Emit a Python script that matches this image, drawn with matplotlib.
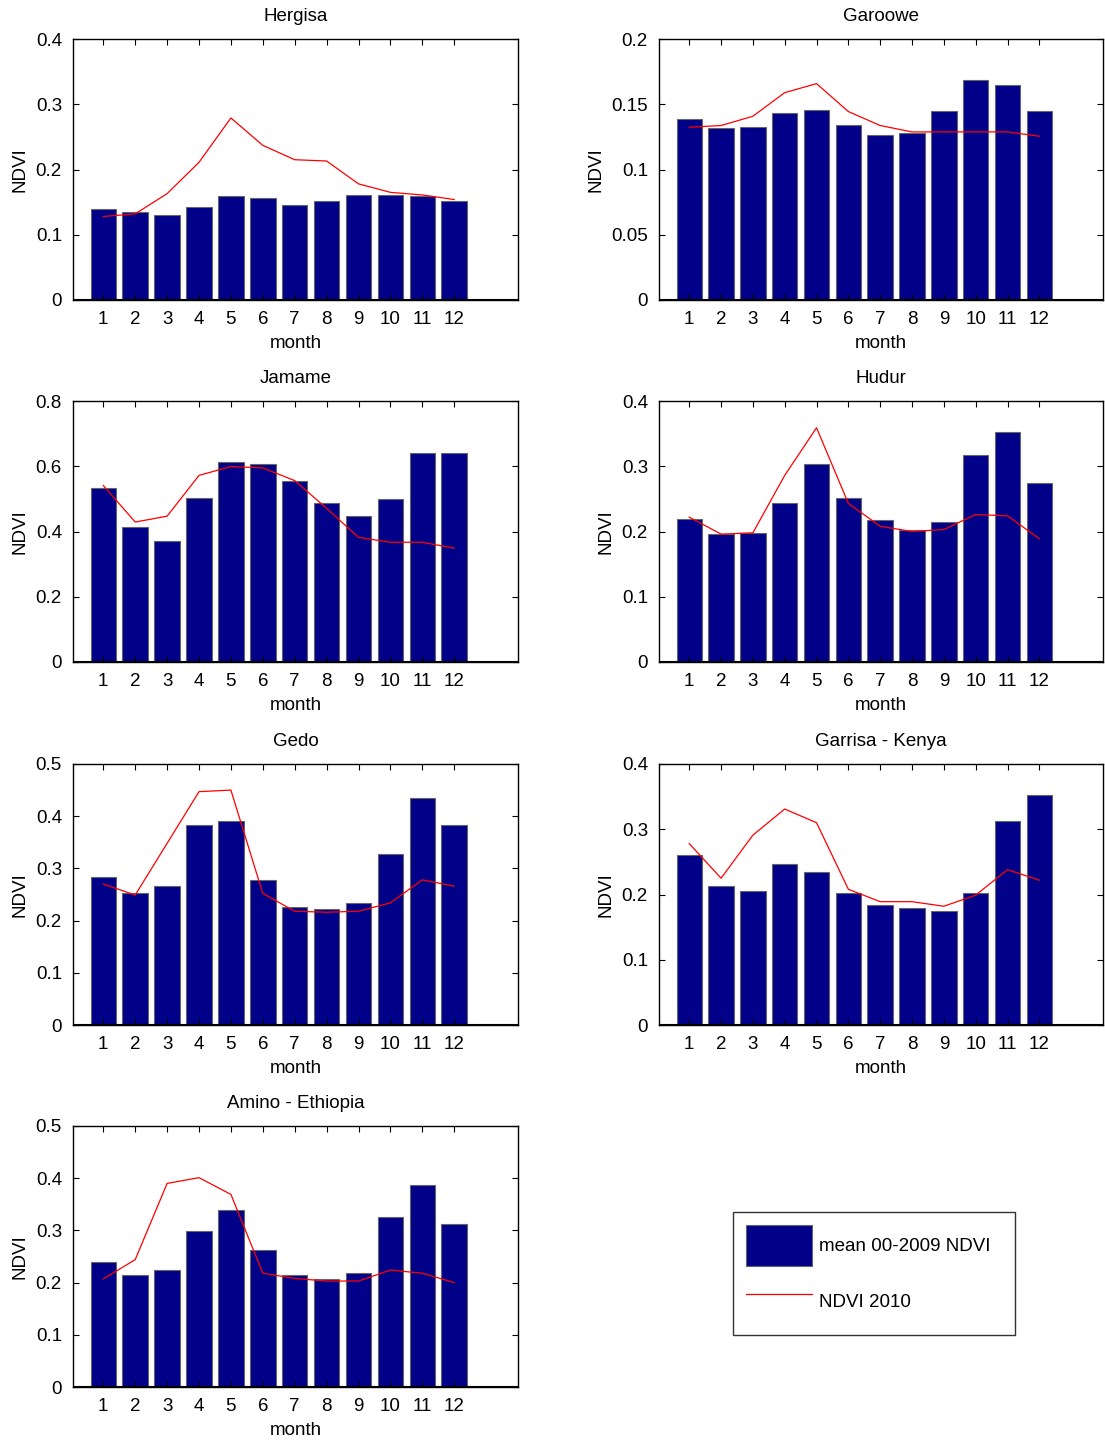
import numpy as np
import matplotlib
matplotlib.use("Agg")
import matplotlib.pyplot as plt

plt.rcParams['font.family'] = ['Liberation Sans', 'DejaVu Sans']
plt.rcParams['font.size'] = 13.5

months = np.arange(1, 13)

# --- valeurs ---
titles = ["Hergisa", "Garoowe", "Jamame", "Hudur", "Gedo", "Garrisa - Kenya", "Amino - Ethiopia"]

hergisa_mean = [0.139, 0.135, 0.130, 0.142, 0.159, 0.156, 0.146, 0.152, 0.161, 0.161, 0.159, 0.152]
hergisa_2010 = [0.128, 0.132, 0.163, 0.211, 0.279, 0.237, 0.215, 0.213, 0.178, 0.165, 0.161, 0.154]

garoowe_mean = [0.1385, 0.1316, 0.1324, 0.1431, 0.1459, 0.1339, 0.1265, 0.1283, 0.1446, 0.1684, 0.1645, 0.1446]
garoowe_2010 = [0.1324, 0.1337, 0.1408, 0.1589, 0.1658, 0.1444, 0.1337, 0.1288, 0.1288, 0.1288, 0.1288, 0.1255]

jamame_mean = [0.533, 0.415, 0.372, 0.504, 0.613, 0.607, 0.556, 0.486, 0.448, 0.500, 0.642, 0.642]
jamame_2010 = [0.541, 0.429, 0.447, 0.572, 0.599, 0.595, 0.556, 0.471, 0.382, 0.367, 0.367, 0.349]

hudur_mean = [0.219, 0.196, 0.198, 0.244, 0.303, 0.252, 0.217, 0.203, 0.215, 0.317, 0.352, 0.274]
hudur_2010 = [0.222, 0.196, 0.198, 0.286, 0.359, 0.243, 0.208, 0.200, 0.203, 0.226, 0.224, 0.189]

gedo_mean = [0.284, 0.252, 0.266, 0.384, 0.390, 0.278, 0.227, 0.222, 0.234, 0.328, 0.435, 0.384]
gedo_2010 = [0.270, 0.249, 0.348, 0.447, 0.450, 0.252, 0.218, 0.216, 0.218, 0.234, 0.278, 0.266]

garrisa_mean = [0.260, 0.213, 0.205, 0.246, 0.234, 0.202, 0.184, 0.180, 0.175, 0.203, 0.312, 0.352]
garrisa_2010 = [0.278, 0.225, 0.291, 0.331, 0.310, 0.208, 0.189, 0.189, 0.182, 0.199, 0.238, 0.222]

amino_mean = [0.239, 0.215, 0.224, 0.298, 0.339, 0.262, 0.215, 0.206, 0.218, 0.325, 0.387, 0.313]
amino_2010 = [0.207, 0.244, 0.390, 0.401, 0.369, 0.218, 0.208, 0.203, 0.203, 0.224, 0.218, 0.200]

means = [hergisa_mean, garoowe_mean, jamame_mean, hudur_mean, gedo_mean, garrisa_mean, amino_mean]
ndvi10 = [hergisa_2010, garoowe_2010, jamame_2010, hudur_2010, gedo_2010, garrisa_2010, amino_2010]
ymax = [0.4, 0.2, 0.8, 0.4, 0.5, 0.4, 0.5]
ystep = [0.1, 0.05, 0.2, 0.1, 0.1, 0.1, 0.1]

W, H = 1105, 1445
fig = plt.figure(figsize=(W / 100, H / 100), dpi=100)

# cadres des axes en pixels (mesurés sur la figure)
lefts = [73, 659]
widths = [445, 444]
tops = [39, 401, 764, 1126]
ah = 261

BAR = "#000088"
for i in range(7):
    l = lefts[i % 2]
    aw = widths[i % 2]
    t = tops[i // 2]
    ax = fig.add_axes([l / W, 1 - (t + ah) / H, aw / W, ah / H])
    bars = ax.bar(months, means[i], width=0.8, color=BAR, edgecolor="#666666", linewidth=0.8)
    line, = ax.plot(months, ndvi10[i], color="red", linewidth=0.9)
    ax.axhline(0, color="black", linewidth=1.5)
    ax.set_xlim(0.05, 14)
    ax.set_ylim(0, ymax[i])
    ax.set_xticks(months)
    yt = np.arange(0, ymax[i] + 1e-9, ystep[i])
    ax.set_yticks(yt)
    ax.set_yticklabels([("%g" % v) for v in yt])
    ax.tick_params(direction="in", top=True, right=True, length=4, width=0.8, pad=8)
    for s in ax.spines.values():
        s.set_linewidth(1.0)
    ax.set_title(titles[i], fontsize=13.5, pad=13)
    ax.set_xlabel("month", labelpad=5)
    ax.set_ylabel("NDVI", labelpad=5)

# --- légende dans la case vide ---
leg = fig.legend([bars, line], ["mean 00-2009 NDVI", "NDVI 2010"],
                 loc="upper left", mode="expand",
                 bbox_to_anchor=(733 / W, 1 - 1337 / H, 282 / W, 125 / H),
                 frameon=True, fancybox=False, edgecolor="black", borderpad=0.7,
                 handlelength=3.5, handleheight=3.0, labelspacing=0.77, handletextpad=0.4,
                 borderaxespad=0.0, fontsize=13.5)
leg.get_frame().set_linewidth(1.0)

fig.savefig("out.png", dpi=100)
